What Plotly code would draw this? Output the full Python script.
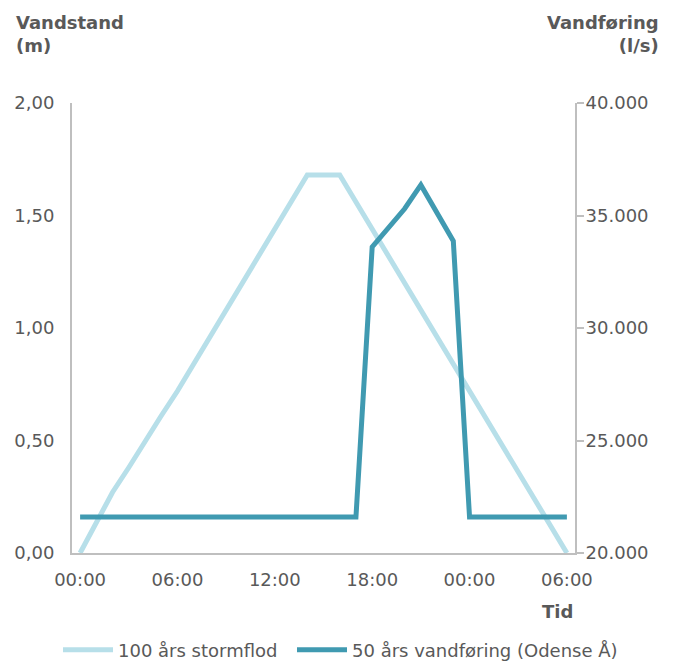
import plotly.graph_objects as go

hours = list(range(31))
tick_hours = [0, 6, 12, 18, 24, 30]
tick_labels = ["00:00", "06:00", "12:00", "18:00", "00:00", "06:00"]

stormflod = [0.00, 0.13, 0.27, 0.38, 0.50, 0.61, 0.72, 0.84, 0.95, 1.08, 1.20,
             1.32, 1.44, 1.56, 1.68, 1.68, 1.68, 1.56, 1.44, 1.32, 1.20, 1.08,
             0.96, 0.84, 0.72, 0.60, 0.48, 0.36, 0.24, 0.12, 0.00]

vandforing = [21600, 21600, 21600, 21600, 21600, 21600, 21600, 21600, 21600,
              21600, 21600, 21600, 21600, 21600, 21600, 21600, 21600, 21600,
              33600, 34440, 35300, 36360, 35070, 33870, 21600, 21600, 21600,
              21600, 21600, 21600, 21600]

name1 = "100 års stormflod"
name2 = "50 års vandføring (Odense Å)"

light = "rgb(183,223,233)"
dark = "rgb(64,154,177)"
txt = "#595959"
axc = "#BFBFBF"
FONT = "DejaVu Sans"

# page has an 8px body offset; plot area in page px: l72 r575 t103 b553
W, H = 674, 664
L, T = 64, 95
PW, PH = 503, 450

fig = go.Figure()
fig.add_trace(go.Scatter(x=hours, y=stormflod, name=name1, mode="lines",
                         legend="legend", line=dict(color=light, width=5)))
fig.add_trace(go.Scatter(x=hours, y=vandforing, name=name2, mode="lines",
                         yaxis="y2", legend="legend2",
                         line=dict(color=dark, width=5)))

leg_common = dict(orientation="h", xanchor="left",
                  y=-(642 - (T + PH)) / PH, yanchor="middle",
                  font=dict(size=18, color=txt), itemwidth=50)

fig.update_layout(
    width=W, height=H,
    margin=dict(l=L, r=W - L - PW, t=T, b=H - T - PH, autoexpand=False),
    paper_bgcolor="white", plot_bgcolor="white",
    separators=",.",
    font=dict(family=FONT, size=18, color=txt),
    showlegend=True,
    legend=dict(x=(50 - L) / PW, **leg_common),
    legend2=dict(x=(284 - L) / PW, **leg_common),
    xaxis=dict(range=[-0.5, 30.5], tickvals=tick_hours, ticktext=tick_labels,
               showline=True, linecolor=axc, linewidth=2, showgrid=False,
               zeroline=False, ticks="", ticklabelstandoff=9,
               tickfont=dict(size=18, color=txt)),
    yaxis=dict(range=[0, 2], dtick=0.5, tickformat=".2f", showline=True,
               linecolor=axc, linewidth=2, showgrid=False, zeroline=False,
               ticks="", ticklabelstandoff=12, tickfont=dict(size=18, color=txt)),
    yaxis2=dict(range=[20000, 40000], dtick=5000, tickformat=",d", overlaying="y",
                side="right", showline=True, linecolor=axc, linewidth=2,
                showgrid=False, zeroline=False, ticks="outside", ticklen=7,
                tickcolor=axc, tickwidth=2, ticklabelstandoff=-2,
                tickfont=dict(size=18, color=txt)),
    annotations=[
        dict(text="<b>Vandstand<br>(m)</b>", xref="paper", yref="paper",
             x=(6 - L) / PW, y=1 + (T - 2) / PH, xanchor="left", yanchor="top",
             align="left", showarrow=False, font=dict(size=18, color=txt)),
        dict(text="<b>Vandføring<br>(l/s)</b>", xref="paper", yref="paper",
             x=1 + (653 - L - PW) / PW, y=1 + (T - 2) / PH, xanchor="right",
             yanchor="top", align="right", showarrow=False,
             font=dict(size=18, color=txt)),
        dict(text="<b>Tid</b>", xref="paper", yref="paper",
             x=1, y=-46 / PH, xanchor="right", yanchor="top",
             showarrow=False, font=dict(size=18, color=txt)),
    ],
)

fig.write_html("out.html")
